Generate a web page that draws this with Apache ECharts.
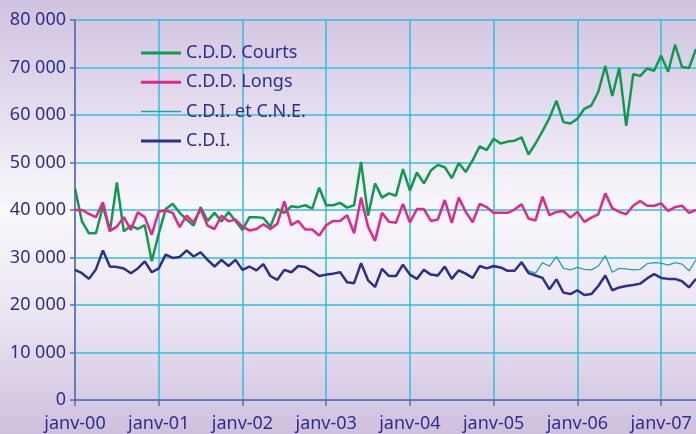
<!DOCTYPE html>
<html>
<head>
<meta charset="utf-8">
<script src="https://cdn.jsdelivr.net/npm/echarts@6/dist/echarts.min.js"></script>
<style>
html,body{margin:0;padding:0;}
body{width:696px;height:434px;overflow:hidden;background:linear-gradient(to bottom,#d0c3df 0%,#e5dcef 25%,#f9f8fc 48%,#ebe5f2 72%,#cfc0de 100%);}
#chart{width:696px;height:434px;}
</style>
</head>
<body>
<div id="chart"></div>
<script>
const monthNames = ['janv','févr','mars','avr','mai','juin','juil','août','sept','oct','nov','déc'];
const yearNames = ['00','01','02','03','04','05','06','07'];
const monthCount = 90; // janv-00 .. juin-07

const seriesNames = ['C.D.D. Courts','C.D.D. Longs','C.D.I. et C.N.E.','C.D.I.'];

const cddCourts = [
44500,37600,35100,35100,40800,35500,45800,35500,36700,36000,36800,29200,
35000,40200,41300,39400,38000,36700,40600,37700,39400,37600,39600,37700,
35800,38500,38500,38300,36500,40200,39400,40800,40600,41000,40300,44700,
41000,41000,41500,40500,41000,50100,38800,45600,42600,43500,43000,48600,
44100,47900,45600,48300,49500,49000,46700,49900,48000,50500,53400,52600,
55000,54000,54400,54600,55300,51700,54000,56600,59400,63000,58500,58200,
59200,61300,62000,64900,70300,64000,69900,57700,68600,68200,69800,69300,
72500,69100,74800,70100,69900,73900];

const cddLongs = [
40000,40000,39200,38500,41600,35600,36500,38500,35800,39500,38500,34800,
39700,39900,39400,36400,38800,37400,40200,36700,36000,38800,37600,38000,
36500,35700,36000,37000,36000,37100,41800,36800,37700,35900,35900,34600,
36800,37700,37700,38900,35100,42600,36500,33500,39400,37500,37300,41300,
37400,40200,40200,37700,38000,42100,37300,42600,39600,37400,41300,40600,
39400,39400,39400,40100,41200,38200,37800,42800,38900,39600,39800,38400,
39600,37500,38400,39100,43500,40400,39600,39100,40900,41900,40900,40900,
41400,39800,40600,40900,39400,40000];

const cdiCne = [
27400,26700,25500,27500,31500,28100,28000,27700,26700,27700,29200,26900,
27700,30600,29900,30100,31500,30200,31100,29500,28100,29500,28200,29500,
27400,28100,27300,28600,26100,25300,27400,26900,28200,28000,27000,26000,
26400,26600,26900,24800,24600,28800,25200,23800,27600,26100,26100,28500,
26400,25500,27400,26400,26100,28100,25500,27200,26500,25600,28200,27700,
28000,27800,27200,27200,29000,27200,26700,28900,28200,30200,27700,27400,
27900,27500,27400,28200,30400,26900,27700,27600,27400,27500,28700,28900,
28800,28400,28900,28600,27200,29500];

const cdi = [
27400,26700,25500,27500,31500,28100,28000,27700,26700,27700,29200,26900,
27700,30600,29900,30100,31500,30200,31100,29500,28100,29500,28200,29500,
27400,28100,27300,28600,26100,25300,27400,26900,28200,28000,27100,26100,
26400,26600,26900,24800,24600,28800,25200,23800,27600,26100,26100,28500,
26400,25500,27400,26400,26200,28100,25500,27300,26600,25700,28200,27700,
28200,27900,27200,27200,29000,26700,26200,25700,23300,25400,22600,22300,
23100,22100,22300,24000,26200,23100,23700,24000,24200,24500,25600,26500,
25700,25500,25500,25000,23700,25500];

const yTicks = [0,10000,20000,30000,40000,50000,60000,70000,80000];

const categories = [];
for (let i = 0; i < monthCount; i++) {
  categories.push(monthNames[i % 12] + '-' + yearNames[Math.floor(i / 12)]);
}

const textColor = '#2e2f8a';
const gridColor = '#2fbfe0';
const axisColor = '#6c64aa';
const font = "'Noto Sans', 'Open Sans', sans-serif";
const thickIcon = 'path://M0 0H40V3H0Z';
const thinIcon = 'path://M0 0H40V1.5H0Z';

const chart = echarts.init(document.getElementById('chart'), null, {renderer: 'canvas'});
chart.setOption({
  animation: false,
  backgroundColor: 'transparent',
  textStyle: {fontFamily: font},
  grid: {left: 75, right: 0, top: 20, bottom: 34, containLabel: false},
  legend: {
    data: [
      {name: seriesNames[0], icon: thickIcon},
      {name: seriesNames[1], icon: thickIcon},
      {name: seriesNames[2], icon: thinIcon},
      {name: seriesNames[3], icon: thickIcon}
    ],
    orient: 'vertical',
    padding: 0,
    left: 141,
    top: 44,
    itemWidth: 40,
    itemHeight: 14,
    itemGap: 11.3,
    symbolKeepAspect: true,
    textStyle: {fontSize: 18, color: textColor, fontFamily: font, lineHeight: 18}
  },
  xAxis: {
    type: 'category',
    data: categories,
    boundaryGap: false,
    axisLine: {show: true, lineStyle: {color: axisColor, width: 1.5}},
    axisTick: {show: true, interval: 11, length: 6, lineStyle: {color: axisColor, width: 1.5}},
    axisLabel: {interval: 11, color: textColor, fontSize: 18, fontFamily: font, margin: 15},
    splitLine: {show: true, interval: 11, lineStyle: {color: gridColor, width: 1.5}}
  },
  yAxis: {
    type: 'value',
    min: yTicks[0],
    max: yTicks[yTicks.length - 1],
    interval: 10000,
    axisLine: {show: true, lineStyle: {color: axisColor, width: 1.5}},
    axisTick: {show: true, length: 5, lineStyle: {color: axisColor, width: 1.5}},
    axisLabel: {
      color: textColor, fontSize: 18, fontFamily: font, margin: 9,
      formatter: v => String(v).replace(/\B(?=(\d{3})+(?!\d))/g, ' ')
    },
    splitLine: {show: true, lineStyle: {color: gridColor, width: 1.5}}
  },
  series: [
    {name: seriesNames[0], type: 'line', data: cddCourts, symbol: 'none', color: '#109a50', lineStyle: {width: 2.5, color: '#109a50'}},
    {name: seriesNames[1], type: 'line', data: cddLongs, symbol: 'none', color: '#e6258c', lineStyle: {width: 2.5, color: '#e6258c'}},
    {name: seriesNames[2], type: 'line', data: cdiCne, symbol: 'none', color: '#22a3aa', lineStyle: {width: 1.3, color: '#22a3aa'}},
    {name: seriesNames[3], type: 'line', data: cdi, symbol: 'none', color: '#2d2f8c', lineStyle: {width: 2.5, color: '#2d2f8c'}}
  ]
});
</script>
</body>
</html>
